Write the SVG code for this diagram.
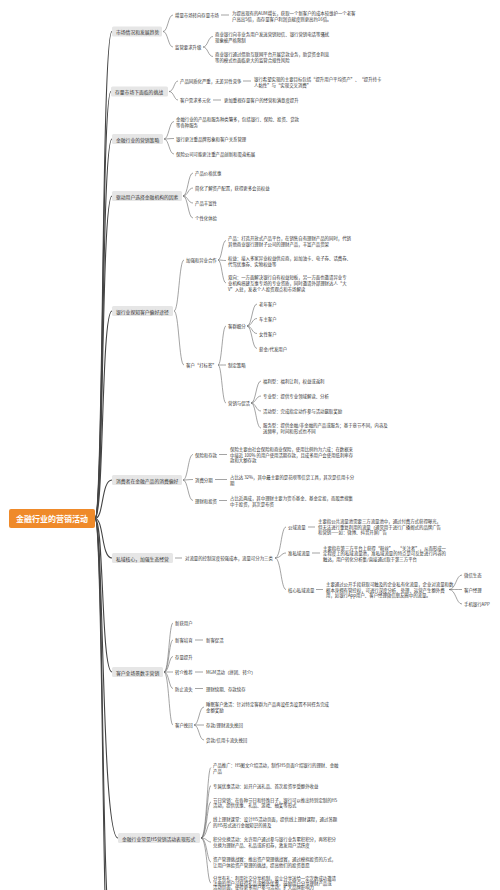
<svg xmlns="http://www.w3.org/2000/svg" width="500" height="890" viewBox="0 0 500 890">
<style>
text{font-family:"Noto Sans CJK SC","Noto Sans",sans-serif;fill:#333;font-size:4.4px;dominant-baseline:central}
.l1{font-size:4.8px}
.root{font-size:8px;fill:#fff;font-weight:bold;text-anchor:middle}
.box{fill:#e6e6e6}
.c{fill:none;stroke:#666;stroke-width:0.6}
.tr{fill:none;stroke:#444;stroke-width:1.1}
</style>
<rect width="500" height="890" fill="#fff"/>
<g id="connectors">
<g class="tr">
<path d="M95,518.5 C104,518.5 101,31.5 112,31.5"/>
<path d="M95,518.5 C104,518.5 101,91.5 111,91.5"/>
<path d="M95,518.5 C104,518.5 101,139 112,139"/>
<path d="M95,518.5 C104,518.5 101,196 112,196"/>
<path d="M95,518.5 C104,518.5 101,311 112,311"/>
<path d="M95,518.5 C104,518.5 101,480 112,480"/>
<path d="M95,518.5 C104,518.5 101,558 112,558"/>
<path d="M95,518.5 C104,518.5 101,672 112,672"/>
<path d="M95,518.5 C104,518.5 101,838 118,838"/>
<path d="M95,518.5 C104,518.5 101,940 112,940"/>
<path d="M95,518.5 C104,518.5 101,1010 112,1010"/>
</g>
<g class="c">
<path d="M163,31.5 C168,31.5 168,15 173,15"/>
<path d="M163,31.5 C168,31.5 168,47 173,47"/>
<path d="M221,15 H229"/>
<path d="M203,47 C208,47 208,36.5 213,36.5"/>
<path d="M203,47 C208,47 208,56.5 213,56.5"/>
<path d="M169,91.5 C174,91.5 174,81 178,81"/>
<path d="M169,91.5 C174,91.5 174,100 178,100"/>
<path d="M243,81 H251"/>
<path d="M213,100 H221"/>
<path d="M164,139 C169,139 169,121.5 174,121.5"/>
<path d="M164,139 C169,139 169,138.5 174,138.5"/>
<path d="M164,139 C169,139 169,154 174,154"/>
<path d="M183,196 C188,196 188,173 193,173"/>
<path d="M183,196 C188,196 188,188 193,188"/>
<path d="M183,196 C188,196 188,203 193,203"/>
<path d="M183,196 C188,196 188,218 193,218"/>
<path d="M174,311 C179,311 179,260 184,260"/>
<path d="M174,311 C179,311 179,365 184,365"/>
<path d="M218,260 C222,260 222,240.5 226,240.5"/>
<path d="M218,260 C222,260 222,260.5 226,260.5"/>
<path d="M218,260 C222,260 222,283 226,283"/>
<path d="M218,365 C222,365 222,326 226,326"/>
<path d="M218,365 C222,365 222,365 226,365"/>
<path d="M218,365 C222,365 222,403 226,403"/>
<path d="M247,326 C252,326 252,304 257,304"/>
<path d="M247,326 C252,326 252,318.5 257,318.5"/>
<path d="M247,326 C252,326 252,333.5 257,333.5"/>
<path d="M247,326 C252,326 252,348.5 257,348.5"/>
<path d="M251,403 C256,403 256,381 261,381"/>
<path d="M251,403 C256,403 256,396 261,396"/>
<path d="M251,403 C256,403 256,411 261,411"/>
<path d="M251,403 C256,403 256,428 261,428"/>
<path d="M183,480 C188,480 188,454.5 193,454.5"/>
<path d="M183,480 C188,480 188,479.5 193,479.5"/>
<path d="M183,480 C188,480 188,500.5 193,500.5"/>
<path d="M219,454.5 H227"/>
<path d="M215,479.5 H227"/>
<path d="M219,500.5 H227"/>
<path d="M175,558 H182"/>
<path d="M275,558 C281,558 281,527 286,527"/>
<path d="M275,558 C281,558 281,553 286,553"/>
<path d="M275,558 C281,558 281,589.5 286,589.5"/>
<path d="M308,527 H315"/>
<path d="M312,553 H320"/>
<path d="M316,589.5 H323"/>
<path d="M449,589.5 C456,589.5 456,575 462,575"/>
<path d="M449,589.5 C456,589.5 456,589.5 462,589.5"/>
<path d="M449,589.5 C456,589.5 456,604 462,604"/>
<path d="M164,672 C169,672 169,623 173,623"/>
<path d="M164,672 C169,672 169,640 173,640"/>
<path d="M164,672 C169,672 169,656.5 173,656.5"/>
<path d="M164,672 C169,672 169,672 173,672"/>
<path d="M164,672 C169,672 169,688.5 173,688.5"/>
<path d="M164,672 C169,672 169,725 173,725"/>
<path d="M195,640 H203"/>
<path d="M195,672 H203"/>
<path d="M195,688.5 H203"/>
<path d="M194,725 C199,725 199,707 204,707"/>
<path d="M194,725 C199,725 199,725 204,725"/>
<path d="M194,725 C199,725 199,740 204,740"/>
<path d="M201,838 C207,838 207,767.5 211,767.5"/>
<path d="M201,838 C207,838 207,785.5 211,785.5"/>
<path d="M201,838 C207,838 207,802 211,802"/>
<path d="M201,838 C207,838 207,822 211,822"/>
<path d="M201,838 C207,838 207,842 211,842"/>
<path d="M201,838 C207,838 207,862 211,862"/>
<path d="M201,838 C207,838 207,883 211,883"/>
</g>
</g>
<g id="root"><rect x="9" y="509" width="86" height="19" rx="2" fill="#ef8a2a"/><text class="root" x="52" y="518.5">金融行业的营销活动</text></g>
<g id="n1"><rect class="box" x="112" y="26.5" width="50" height="10" rx="1.5"/><text class="l1" x="116" y="31.5">市场情况和发展趋势</text></g>
<g id="n1a"><text x="175" y="15">增量市场转向存量市场</text></g>
<g id="n1a1"><text x="232" y="12.5">为提高现有的AUM增长，获取一个新客户的成本较维护一个老客</text><text x="232" y="18.5">户高出5倍，而存量客户利润贡献度则更高约16倍。</text></g>
<g id="n1b"><text x="175" y="47">监管要求升级</text></g>
<g id="n1b1"><text x="215" y="33.5">商业银行向非业务用户发送营销短信、银行营销电话等骚扰</text><text x="215" y="39.5">现象被严格限制</text></g>
<g id="n1b2"><text x="215" y="53.5">商业银行通过借助互联网平台开展贷款业务，助贷资金利息</text><text x="215" y="59.5">等的模式也面临更大的监管合规性风险</text></g>
<g id="n2"><rect class="box" x="111" y="86.5" width="57" height="10" rx="1.5"/><text class="l1" x="115" y="91.5">存量市场下面临的挑战</text></g>
<g id="n2a"><text x="180" y="81">产品同质化严重，无差异性竞争</text></g>
<g id="n2a1"><text x="254" y="78.5">银行希望实现的主要目标包括“提升用户平均资产”、“提升持卡</text><text x="254" y="84.5">人黏性”与“实现交叉消费”</text></g>
<g id="n2b"><text x="180" y="100">客户需求多元化</text></g>
<g id="n2b1"><text x="224" y="100">更加重视存量客户的经营和满意度提升</text></g>
<g id="n3"><rect class="box" x="112" y="134" width="51" height="10" rx="1.5"/><text class="l1" x="116" y="139">金融行业的营销策略</text></g>
<g id="n3a"><text x="176" y="118.5">金融行业的产品和服务种类繁多，包括银行、保险、投资、贷款</text><text x="176" y="124.5">等各种服务</text></g>
<g id="n3b"><text x="176" y="138.5">银行更注重品牌形象和客户关系管理</text></g>
<g id="n3c"><text x="176" y="154">保险公司可能更注重产品创新和渠道拓展</text></g>
<g id="n4"><rect class="box" x="112" y="191" width="70" height="10" rx="1.5"/><text class="l1" x="116" y="196">驱动用户选择金融机构的因素</text></g>
<g id="n4a"><text x="195" y="173">产品价格优惠</text></g>
<g id="n4b"><text x="195" y="188">简化了解资产配置，获得更多会员权益</text></g>
<g id="n4c"><text x="195" y="203">产品丰富性</text></g>
<g id="n4d"><text x="195" y="218">个性化体验</text></g>
<g id="n5"><rect class="box" x="112" y="306" width="61" height="10" rx="1.5"/><text class="l1" x="116" y="311">银行业探知客户偏好途径</text></g>
<g id="n5a"><text x="186" y="260">加强和异业合作</text></g>
<g id="n5a1"><text x="228" y="237.5">产品：打造开放式产品平台，在销售自有理财产品的同时，代销</text><text x="228" y="243.5">其他商业银行理财子公司的理财产品，丰富产品货架</text></g>
<g id="n5a2"><text x="228" y="257.5">权益：接入多家异业权益供应商，如加油卡、电子券、话费券、</text><text x="228" y="263.5">代驾优惠券、实物权益等</text></g>
<g id="n5a3"><text x="228" y="277">双向：一方面解决银行自有权益短板，另一方面也邀请异业专</text><text x="228" y="283">业机构搭建互惠专场的专业资质，同时邀请外部理财达人“大</text><text x="228" y="289">V”入驻，发表个人投资观点和市场解读</text></g>
<g id="n5b"><text x="186" y="365">客户“打标签”</text></g>
<g id="n5b1"><text x="228" y="326">客群细分</text></g>
<g id="n5b1a"><text x="259" y="304">老年客户</text></g>
<g id="n5b1b"><text x="259" y="318.5">车主客户</text></g>
<g id="n5b1c"><text x="259" y="333.5">女性客户</text></g>
<g id="n5b1d"><text x="259" y="348.5">薪金/代发用户</text></g>
<g id="n5b2"><text x="228" y="365">制定策略</text></g>
<g id="n5b3"><text x="228" y="403">营销与促活</text></g>
<g id="n5b3a"><text x="263" y="381">福利型：福利让利，权益或返利</text></g>
<g id="n5b3b"><text x="263" y="396">专业型：提供专业领域解读、分析</text></g>
<g id="n5b3c"><text x="263" y="411">活动型：完成指定动作参与活动赢取奖励</text></g>
<g id="n5b3d"><text x="263" y="425">服务型：提供金融/非金融的产品或服务；基于章节不同，内容及</text><text x="263" y="431">送频率，时间和形式也不同</text></g>
<g id="n6"><rect class="box" x="112" y="475" width="70" height="10" rx="1.5"/><text class="l1" x="116" y="480">消费者在金融产品的消费偏好</text></g>
<g id="n6a"><text x="195" y="454.5">保险和存款</text></g>
<g id="n6a1"><text x="230" y="449">保险主要由社会保险和商业保险，使用比例约为六成；在数据来</text><text x="230" y="454.5">中接近 100% 的用户使用活期存款，且成多用户会使用低利率存</text><text x="230" y="460">款和大额存款</text></g>
<g id="n6b"><text x="195" y="479.5">消费分期</text></g>
<g id="n6b1"><text x="230" y="477">占比达 32%，其中最主要的是花呗等信贷工具，其次是信用卡分</text><text x="230" y="482.5">期</text></g>
<g id="n6c"><text x="195" y="500.5">理财和投资</text></g>
<g id="n6c1"><text x="230" y="498">占比近两成，其中理财主要为货币基金、基金定投，而股票搜集</text><text x="230" y="503.5">中于投资，其次是布资</text></g>
<g id="n7"><rect class="box" x="112" y="553" width="61" height="10" rx="1.5"/><text class="l1" x="116" y="558">私域核心，加强生态经营</text></g>
<g id="n7a"><text x="185" y="558">对流量的控制深度较强成本，流量可分为三类</text></g>
<g id="n7a1"><text x="288" y="527">公域流量</text></g>
<g id="n7a1x"><text x="318" y="521">主要指公共流量池需要三方流量池中，通过付费方式获得曝光，</text><text x="318" y="526.5">但无法进行重复利用的流量（通常用于进行广播阁式的品牌广告</text><text x="318" y="532">和营销——如：微博、抖音开屏广告</text></g>
<g id="n7a2"><text x="288" y="553">准私域流量</text></g>
<g id="n7a2x"><text x="323" y="547.5">主要指在第三方平台上获得“粉丝”、“关注者”，从而形成一</text><text x="323" y="553">定程度上的私域流量池，准私域流量的特点是可反复进行内容的</text><text x="323" y="558.5">触达，用户转化分析集/直接通过取于第三方平台</text></g>
<g id="n7a3"><text x="288" y="589.5">核心私域流量</text></g>
<g id="n7a3x"><text x="326" y="584">主要通过公开手段获取可触及的企业私有化流量，企业对流量和数</text><text x="326" y="589.5">据本身拥有管控权，可进行深度分析、处理、运营产生额外费</text><text x="326" y="595">用，如银行App用户、客户经理微信朋友圈中的流量。</text></g>
<g id="n7a3a"><text x="464" y="575">微信生态</text></g>
<g id="n7a3b"><text x="464" y="589.5">客户经理</text></g>
<g id="n7a3c"><text x="464" y="604">手机银行APP</text></g>
<g id="n8"><rect class="box" x="112" y="667" width="51" height="10" rx="1.5"/><text class="l1" x="116" y="672">客户全场景数字营销</text></g>
<g id="n8a"><text x="175" y="623">新获用户</text></g>
<g id="n8b"><text x="175" y="640">新客培育</text></g>
<g id="n8b1"><text x="206" y="640">新客促活</text></g>
<g id="n8c"><text x="175" y="656.5">存量提升</text></g>
<g id="n8d"><text x="175" y="672">转介推荐</text></g>
<g id="n8d1"><text x="206" y="672">MGM活动（拼团、转介）</text></g>
<g id="n8e"><text x="175" y="688.5">防止流失</text></g>
<g id="n8e1"><text x="206" y="688.5">理财续期、存款续存</text></g>
<g id="n8f"><text x="175" y="725">客户挽回</text></g>
<g id="n8f1"><text x="206" y="704">睡眠客户激活：针对特定客群为产品再设任务设置不同任务完成</text><text x="206" y="709.5">金额奖励</text></g>
<g id="n8f2"><text x="206" y="725">存款/理财流失挽回</text></g>
<g id="n8f3"><text x="206" y="740">贷款/信用卡流失挽回</text></g>
<g id="n9"><rect class="box" x="118" y="833" width="82" height="10" rx="1.5"/><text class="l1" x="122" y="838">金融行业常见H5营销活动表现形式</text></g>
<g id="n9a"><text x="213" y="765">产品推广：H5图文介绍活动，制作H5页面介绍银行的理财、金融</text><text x="213" y="770.5">产品</text></g>
<g id="n9b"><text x="213" y="785.5">专属优惠活动：如开户送礼品、首次投资享受额外收益</text></g>
<g id="n9c"><text x="213" y="799.5">节日营销：在各种节日和特殊日子，银行可以推出特别定制的H5</text><text x="213" y="805">活动，提供优惠、礼品、游戏、抽奖等形式</text></g>
<g id="n9d"><text x="213" y="819">线上理财课堂：设计H5活动页面，提供线上理财课程，通过答题</text><text x="213" y="824.5">的H5形式进行金融知识的普及</text></g>
<g id="n9e"><text x="213" y="839">积分兑换活动：允许用户通过参与银行业务累积积分，再将积分</text><text x="213" y="844.5">兑换为理财产品、礼品或折扣券，激发用户活跃度</text></g>
<g id="n9f"><text x="213" y="859">资产管理挑战赛：推出资产管理挑战赛，通过模拟投资的方式，</text><text x="213" y="864.5">让用户体验资产管理的挑战，提高他们的投资意愿</text></g>
<g id="n9g"><text x="213" y="877.5">分享有礼：利用社交分享机制，设立分享送给一定次数成功邀请</text><text x="213" y="882.5">注册的用户可获得礼品或额外优惠，鼓励用户分享理财产品或</text><text x="213" y="887.3">活动页面，使得更多用户参与活动，扩大品牌影响力</text></g>
</svg>
